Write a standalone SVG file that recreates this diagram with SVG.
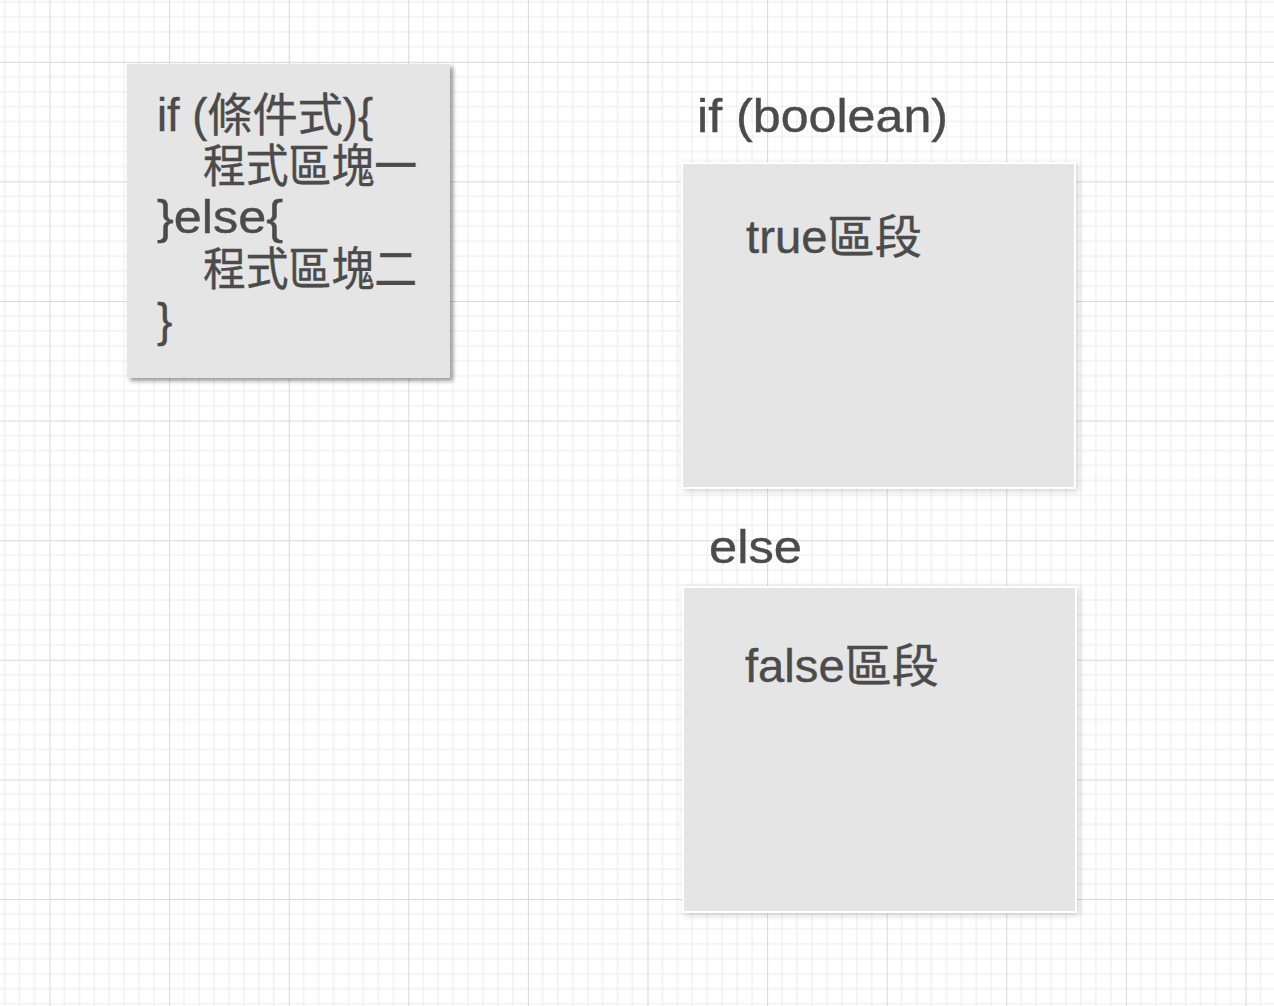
<svg xmlns="http://www.w3.org/2000/svg" width="1274" height="1006" viewBox="0 0 1274 1006">
  <defs>
    <pattern id="grid" patternUnits="userSpaceOnUse" x="49.5" y="61.8" width="119.6" height="119.6">
      <rect width="119.6" height="119.6" fill="#ffffff"/>
      <g stroke="#ebebeb" stroke-width="1">
        <path d="M14.95 0V119.6M29.9 0V119.6M44.85 0V119.6M59.8 0V119.6M74.75 0V119.6M89.7 0V119.6M104.65 0V119.6"/>
        <path d="M0 14.95H119.6M0 29.9H119.6M0 44.85H119.6M0 59.8H119.6M0 74.75H119.6M0 89.7H119.6M0 104.65H119.6"/>
      </g>
      <path d="M0.5 0V119.6M0 0.5H119.6" stroke="#d8d8d8" stroke-width="1"/>
    </pattern>
    <filter id="shadowHard" x="-10%" y="-10%" width="125%" height="125%">
      <feDropShadow dx="3" dy="3" stdDeviation="2" flood-color="#000" flood-opacity="0.4"/>
    </filter>
    <filter id="shadowSoft" x="-10%" y="-10%" width="125%" height="125%">
      <feDropShadow dx="2" dy="2" stdDeviation="3" flood-color="#000" flood-opacity="0.18"/>
    </filter>
  </defs>
  <style>
    .t { font-family: "Liberation Sans", "Noto Sans CJK TC", sans-serif; font-size: 46px; fill: #4b4b4b; stroke: #4b4b4b; stroke-width: 0.4; }
    .box { fill: #e5e5e5; }
    .boxw { fill: #e5e5e5; stroke: #ffffff; stroke-width: 2; }
  </style>
  <rect width="1274" height="1006" fill="url(#grid)"/>

  <g id="code-node">
    <rect class="box" x="127" y="64" width="323" height="314" filter="url(#shadowHard)"/>
    <text class="t" x="157" y="131" textLength="216" lengthAdjust="spacingAndGlyphs">if (條件式){</text>
    <text class="t" x="203" y="182" textLength="214" lengthAdjust="spacingAndGlyphs">程式區塊一</text>
    <text class="t" x="157" y="233" textLength="126" lengthAdjust="spacingAndGlyphs">}else{</text>
    <text class="t" x="203" y="285" textLength="214" lengthAdjust="spacingAndGlyphs">程式區塊二</text>
    <text class="t" x="157" y="336">}</text>
  </g>

  <g id="if-label">
    <text class="t" x="697" y="132" textLength="251" lengthAdjust="spacingAndGlyphs">if (boolean)</text>
  </g>

  <g id="true-block">
    <rect class="boxw" x="682" y="163" width="393" height="325" filter="url(#shadowSoft)"/>
    <text class="t" x="746" y="253" textLength="176" lengthAdjust="spacingAndGlyphs">true區段</text>
  </g>

  <g id="else-label">
    <text class="t" x="709" y="563" textLength="93" lengthAdjust="spacingAndGlyphs">else</text>
  </g>

  <g id="false-block">
    <rect class="boxw" x="683" y="587" width="393" height="325" filter="url(#shadowSoft)"/>
    <text class="t" x="745" y="682" textLength="194" lengthAdjust="spacingAndGlyphs">false區段</text>
  </g>

  <g id="connectors"/>
</svg>
